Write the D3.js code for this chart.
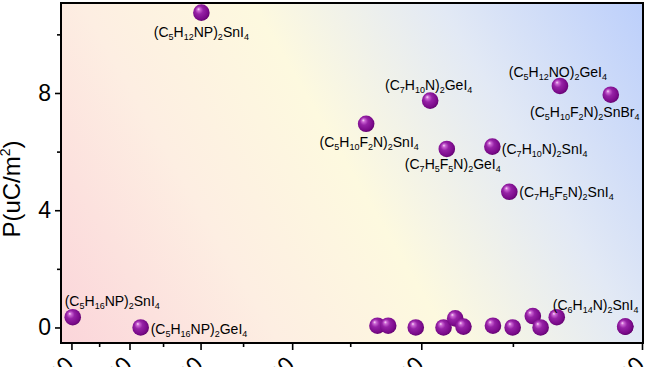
<!DOCTYPE html>
<html>
<head>
<meta charset="utf-8">
<script src="https://cdn.jsdelivr.net/npm/d3@7"></script>
<style>
  body { margin: 0; background: #fff; }
  svg { display: block; }
  text { font-family: "Liberation Sans", Arial, sans-serif; fill: #000; }
</style>
</head>
<body>
<script>
// data
var compounds = [
  "(C5H12NP)2SnI4", "(C7H10N)2GeI4", "(C5H12NO)2GeI4", "(C5H10F2N)2SnBr4",
  "(C5H10F2N)2SnI4", "(C7H5F5N)2GeI4", "(C7H10N)2SnI4", "(C7H5F5N)2SnI4",
  "(C5H16NP)2SnI4", "(C5H16NP)2GeI4",
  "", "", "", "", "", "", "", "", "", "", "",
  "(C6H14N)2SnI4", ""
]
var xValues = [
  3.99, 1.945, 1.294, 1.103,
  2.378, 1.846, 1.600, 1.517,
  5.976, 4.828,
  2.295, 2.219, 2.035, 1.865, 1.798, 1.752, 1.597, 1.501, 1.409, 1.375, 1.054,
  1.307, 1.054
]
var yValues = [
  10.74, 7.74, 8.24, 7.94,
  6.95, 6.09, 6.17, 4.63,
  0.35, 0.0,
  0.06, 0.06, 0.0, 0.0, 0.31, 0.03, 0.06, 0.0, 0.39, 0.0, 0.03,
  0.35, 0.03
]
var xMajorTicks = [6, 5, 4, 3, 2, 1]
var xMinorTicks = [5.5, 4.5, 3.5, 2.5, 1.5]
var xTickLabels = ["600", "500", "400", "300", "200", "100"]
var yMajorTicks = [0, 4, 8]
var yMinorTicks = [2, 6, 10]
var yTitle = "P(uC/m"

// where each label sits relative to its sphere: [dx, dy, anchor]
var labelPlace = {
  "(C5H12NP)2SnI4": [0, 24, "middle"],
  "(C7H10N)2GeI4": [-1.5, -11, "middle"],
  "(C5H12NO)2GeI4": [-2, -9, "middle"],
  "(C5H10F2N)2SnBr4": [-26, 22, "middle"],
  "(C5H10F2N)2SnI4": [3, 23, "middle"],
  "(C7H5F5N)2GeI4": [6, 20, "middle"],
  "(C7H10N)2SnI4": [9.5, 7, "start"],
  "(C7H5F5N)2SnI4": [10, 5.5, "start"],
  "(C5H16NP)2SnI4": [-8, -11, "start"],
  "(C5H16NP)2GeI4": [10, 6.5, "start"],
  "(C6H14N)2SnI4": [-4, -7, "start"]
}

var W = 654, H = 367
var plot = {left: 61, right: 643, top: 3, bottom: 343}

var svg = d3.select("body").append("svg")
  .attr("width", W)
  .attr("height", H)

var x = d3.scaleLog()
  .domain([6.2, 1])
  .range([plot.left, plot.right - 1])

var y = d3.scaleLinear()
  .domain([-0.53, 11.07])
  .range([plot.bottom, plot.top])

var defs = svg.append("defs")

var bg = defs.append("linearGradient")
  .attr("id", "bg")
  .attr("gradientUnits", "userSpaceOnUse")
  .attr("x1", plot.left).attr("y1", plot.bottom)
  .attr("x2", plot.right).attr("y2", plot.top)
var bgStops = [[0, "#fbd5da"], [0.28, "#fdeee2"], [0.5, "#fdf9df"], [0.74, "#e2e9f5"], [1, "#bccffb"]]
bg.selectAll("stop").data(bgStops).enter().append("stop")
  .attr("offset", function(d) { return d[0] })
  .attr("stop-color", function(d) { return d[1] })

var ball = defs.append("radialGradient")
  .attr("id", "ball")
  .attr("cx", "45%").attr("cy", "45%").attr("r", "60%")
  .attr("fx", "32%").attr("fy", "28%")
var ballStops = [[0, "#f8e0f8"], [0.15, "#cc66d4"], [0.4, "#9622a6"], [0.8, "#7a0a8a"], [1, "#5a0066"]]
ball.selectAll("stop").data(ballStops).enter().append("stop")
  .attr("offset", function(d) { return d[0] })
  .attr("stop-color", function(d) { return d[1] })

// plot background
svg.append("rect")
  .attr("x", plot.left).attr("y", plot.top)
  .attr("width", plot.right - plot.left)
  .attr("height", plot.bottom - plot.top)
  .attr("fill", "url(#bg)")

// axes
var fontTick = 23

var yMajor = svg.append("g")
  .attr("transform", "translate(" + plot.left + ",0)")
  .call(d3.axisLeft(y).tickValues(yMajorTicks).tickSize(6).tickPadding(4).tickFormat(d3.format("d")))
var yMinor = svg.append("g")
  .attr("transform", "translate(" + plot.left + ",0)")
  .call(d3.axisLeft(y).tickValues(yMinorTicks).tickSize(4).tickFormat(""))

var xMajor = svg.append("g")
  .attr("transform", "translate(0," + plot.bottom + ")")
  .call(d3.axisBottom(x).tickValues(xMajorTicks).tickSize(7)
    .tickFormat(function(d, i) { return xTickLabels[i] }))
var xMinor = svg.append("g")
  .attr("transform", "translate(0," + plot.bottom + ")")
  .call(d3.axisBottom(x).tickValues(xMinorTicks).tickSize(4).tickFormat(""))

svg.selectAll(".domain").remove()
svg.selectAll(".tick line").attr("stroke", "#000").attr("stroke-width", 1.6)
yMajor.selectAll("text")
  .attr("font-size", fontTick)
  .attr("font-family", "Liberation Sans, Arial, sans-serif")
  .attr("fill", "#000")
xMajor.selectAll("text")
  .attr("font-size", fontTick)
  .attr("font-family", "Liberation Sans, Arial, sans-serif")
  .attr("fill", "#000")
  .attr("text-anchor", "end")
  .attr("y", 0)
  .attr("dy", "0.75em")
  .attr("transform", "translate(-9,11) rotate(-45)")

// frame
svg.append("rect")
  .attr("x", plot.left).attr("y", plot.top)
  .attr("width", plot.right - plot.left)
  .attr("height", plot.bottom - plot.top)
  .attr("fill", "none")
  .attr("stroke", "#000")
  .attr("stroke-width", 2)

// y title
var title = svg.append("text")
  .attr("transform", "translate(20,189) rotate(-90)")
  .attr("text-anchor", "middle")
  .attr("font-size", 24)
title.append("tspan").text(yTitle)
title.append("tspan").attr("font-size", 14).attr("dy", -10).text("2")
title.append("tspan").attr("dy", 10).text(")")

// spheres
var pts = compounds.map(function(c, i) {
  return {"name": c, "x": xValues[i], "y": yValues[i]}
})

svg.append("g").selectAll("circle")
  .data(pts)
  .enter()
  .append("circle")
  .attr("cx", function(d) { return x(d.x) })
  .attr("cy", function(d) { return y(d.y) })
  .attr("r", 8.3)
  .attr("fill", "url(#ball)")

// formula labels, digits set as subscripts
function addFormula(sel, s) {
  var parts = s.match(/\d+|\D+/g)
  var down = false
  parts.forEach(function(p) {
    var isNum = /\d/.test(p)
    var t = sel.append("tspan").text(p)
    if (isNum) {
      t.attr("font-size", 9)
      if (!down) { t.attr("dy", 3); down = true }
    } else {
      if (down) { t.attr("dy", -3); down = false }
    }
  })
}

var labels = svg.append("g")
pts.filter(function(d) { return d.name != "" }).forEach(function(d) {
  var pl = labelPlace[d.name]
  var t = labels.append("text")
    .attr("x", x(d.x) + pl[0])
    .attr("y", y(d.y) + pl[1])
    .attr("text-anchor", pl[2])
    .attr("font-size", 14)
  addFormula(t, d.name)
})
</script>
</body>
</html>
